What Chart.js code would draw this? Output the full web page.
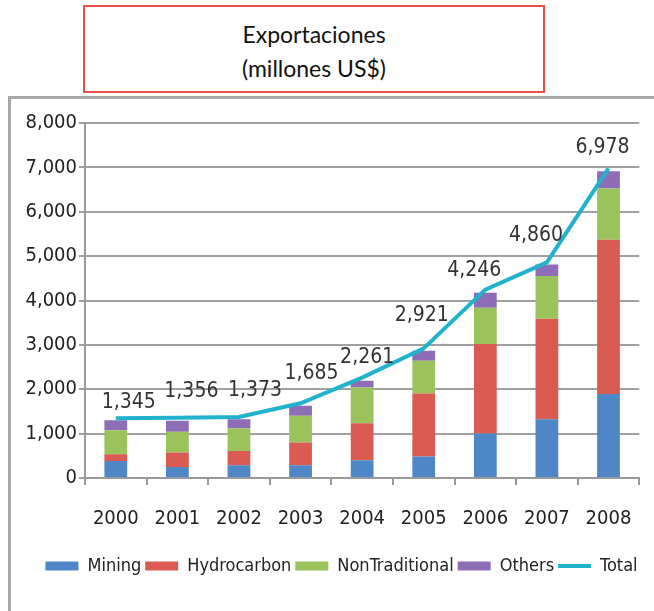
<!DOCTYPE html>
<html>
<head>
<meta charset="utf-8">
<script src="https://cdn.jsdelivr.net/npm/chart.js@4"></script>
<style>
  body { margin: 0; background: #fff; }
  #wrap { position: relative; width: 654px; height: 611px; overflow: hidden; }
  #titleBox {
    position: absolute; left: 83px; top: 5px; width: 458px; height: 74px;
    border: 2px solid #e8504c; text-align: center;
    font-family: Lato, "Open Sans", sans-serif; font-size: 23px; line-height: 34px;
    color: #111; padding-top: 10px; box-sizing: content-box;
  }
  #frame {
    position: absolute; left: 8px; top: 96px; width: 700px; height: 600px;
    border-left: 3px solid #a8a8a8; border-top: 3px solid #a8a8a8;
  }
  #myChart { position: absolute; left: 0; top: 0; }
</style>
</head>
<body>
<div id="wrap">
  <div id="titleBox">Exportaciones<br>(millones US$)</div>
  <div id="frame"></div>
  <canvas id="myChart" width="654" height="611"></canvas>
</div>
<script>
const years = ['2000', '2001', '2002', '2003', '2004', '2005', '2006', '2007', '2008'];
const mining = [384, 250, 286, 286, 400, 482, 1002, 1326, 1891];
const hydrocarbon = [150, 322, 324, 512, 836, 1424, 2019, 2260, 3480];
const nonTraditional = [542, 468, 512, 603, 805, 738, 813, 964, 1153];
const others = [226, 248, 204, 226, 151, 226, 339, 264, 391];
const total = [1345, 1356, 1373, 1685, 2261, 2921, 4246, 4860, 6978];

const narrow = "'Liberation Sans Narrow', 'DejaVu Sans Condensed', 'Arial Narrow', sans-serif";

// label placement as in the original (hand moved labels), in px
const labelShiftX = [13, 14, 16, 11, 5, -2, -11, -11, -6];
const labelShiftY = [16, 26, 27, 30, 20, 33, 19, 27, 21];

// draws the numbers above the total line
const totalLabels = {
	id: 'totalLabels',
	afterDatasetsDraw(chart) {
		const meta = chart.getDatasetMeta(4);
		const ctx = chart.ctx;
		ctx.save();
		ctx.font = '21px ' + narrow;
		ctx.fillStyle = '#333';
		ctx.textAlign = 'center';
		ctx.textBaseline = 'middle';
		meta.data.forEach((pt, i) => {
			ctx.fillText(total[i].toLocaleString('en-US'), pt.x + labelShiftX[i], pt.y - labelShiftY[i]);
		});
		ctx.restore();
	}
};

// legend in the original sits a bit to the right
const legendShift = {
	id: 'legendShift',
	afterLayout(chart) {
		chart.legend.left += 20;
		chart.legend.right += 20;
	}
};

function barSet(label, data, color) {
	return {
		type: 'bar',
		label: label,
		data: data,
		backgroundColor: color,
		borderWidth: 0,
		stack: 'parts',
		order: 1,
		pointStyle: 'rect',
		barPercentage: 0.37,
		categoryPercentage: 1
	};
}

const myChart = document.getElementById('myChart');

let chart = new Chart(myChart, {
	data: {
		labels: years,
		datasets: [
			barSet('Mining', mining, '#4f86c6'),
			barSet('Hydrocarbon', hydrocarbon, '#d95b52'),
			barSet('NonTraditional', nonTraditional, '#9bc35c'),
			barSet('Others', others, '#8d6db5'),
			{
				type: 'line',
				label: 'Total',
				data: total,
				borderColor: '#21b3cc',
				backgroundColor: '#21b3cc',
				borderWidth: 4,
				pointRadius: 0,
				pointStyle: 'line',
				tension: 0,
				stack: 'total',
				order: 0
			}
		]
	},
	options: {
		responsive: false,
		animation: false,
		layout: { padding: { left: 0, right: 11, top: 123, bottom: 26 } },
		plugins: {
			tooltip: { enabled: false },
			legend: {
				position: 'bottom',
				labels: {
					usePointStyle: true,
					pointStyleWidth: 33,
					boxHeight: 9,
					padding: 4,
					color: '#222',
					font: { family: narrow, size: 18 },
					sort: (a, b) => a.datasetIndex - b.datasetIndex
				}
			}
		},
		scales: {
			x: {
				stacked: true,
				grid: { drawOnChartArea: false, color: '#999', lineWidth: 2, tickLength: 7, offset: true },
				border: { color: '#999', width: 2 },
				ticks: { color: '#222', font: { family: narrow, size: 20 }, padding: 22 },
				afterFit(scale) { scale.height = 75; }
			},
			y: {
				stacked: true,
				min: 0,
				max: 8000,
				grid: { color: '#a0a0a0', lineWidth: 2, tickLength: 6 },
				border: { color: '#999', width: 2 },
				ticks: {
					stepSize: 1000,
					color: '#222',
					font: { family: narrow, size: 20 },
					padding: 2,
					callback: v => v.toLocaleString('en-US')
				},
				afterFit(scale) { scale.width = 85; }
			}
		}
	},
	plugins: [totalLabels, legendShift]
});
</script>
</body>
</html>
